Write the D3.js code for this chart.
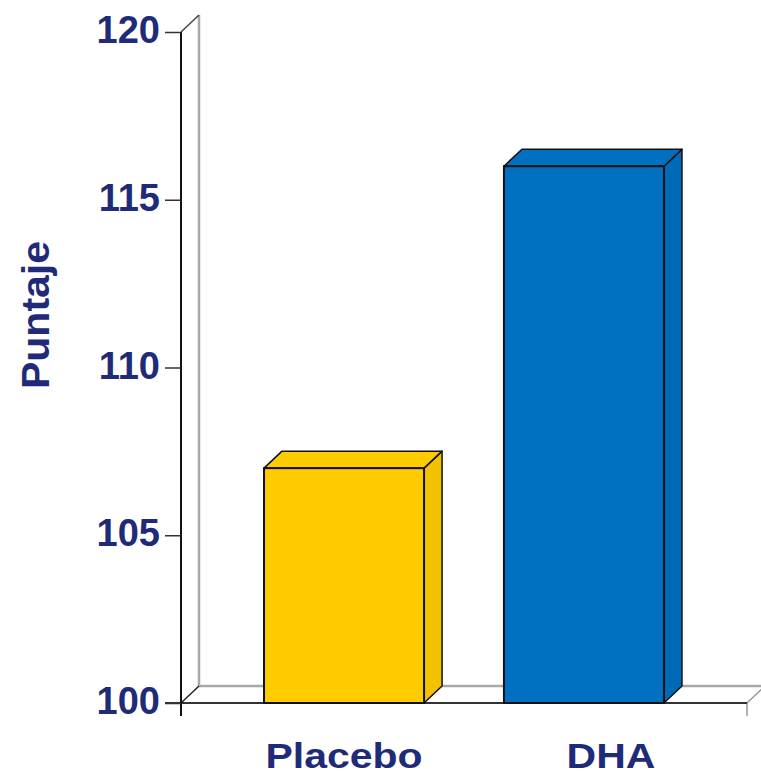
<!DOCTYPE html>
<html>
<head>
<meta charset="utf-8">
<script src="https://cdn.jsdelivr.net/npm/d3@7"></script>
<style>
  html, body { margin: 0; padding: 0; background: #fff; }
  svg { display: block; }
  text { font-family: "Liberation Sans", Arial, sans-serif; font-weight: bold; fill: #1f2b78; }
</style>
</head>
<body>
<svg id="chart" width="761" height="776"></svg>
<script>
// Data
const categories = ["Placebo", "DHA"];
const values = [107, 116];
const barColors = ["#ffcc00", "#0070c0"];
const yTicks = [100, 105, 110, 115, 120];
const yTitle = "Puntaje";

const svg = d3.select("#chart");

// Layout
const axisX = 181;      // front vertical axis
const floorRight = 747; // right end of floor front edge
const depthX = 18, depthY = 17; // 3D depth offset
const y = d3.scaleLinear().domain([100, 120]).range([703, 32]);
const x = d3.scaleBand().domain(categories).range([axisX, floorRight])
  .paddingInner(0.333).paddingOuter(0.346);

const wall = svg.append("g");
// back wall vertical line
wall.append("line")
  .attr("x1", axisX + depthX).attr("x2", axisX + depthX)
  .attr("y1", y(120) - depthY).attr("y2", y(100) - depthY)
  .attr("stroke", "#a8a8a8").attr("stroke-width", 2.5);
// back floor line
wall.append("line")
  .attr("x1", axisX + depthX).attr("x2", floorRight + depthX)
  .attr("y1", y(100) - depthY).attr("y2", y(100) - depthY)
  .attr("stroke", "#a8a8a8").attr("stroke-width", 2.5);
// right floor edge and its tick
wall.append("line")
  .attr("x1", floorRight).attr("x2", floorRight + depthX)
  .attr("y1", y(100)).attr("y2", y(100) - depthY)
  .attr("stroke", "#999").attr("stroke-width", 1.5);
wall.append("line")
  .attr("x1", floorRight).attr("x2", floorRight)
  .attr("y1", y(100)).attr("y2", y(100) + 13)
  .attr("stroke", "#999").attr("stroke-width", 1.5);
// floor front edge
wall.append("line")
  .attr("x1", axisX - 16).attr("x2", floorRight)
  .attr("y1", y(100)).attr("y2", y(100))
  .attr("stroke", "#333").attr("stroke-width", 1.8);
// left floor edge and top wall edge
wall.append("line")
  .attr("x1", axisX).attr("x2", axisX + depthX)
  .attr("y1", y(100)).attr("y2", y(100) - depthY)
  .attr("stroke", "#222").attr("stroke-width", 1.5);
wall.append("line")
  .attr("x1", axisX).attr("x2", axisX + depthX)
  .attr("y1", y(120)).attr("y2", y(120) - depthY)
  .attr("stroke", "#444").attr("stroke-width", 1.5);

// front y axis with ticks
const yAxis = d3.axisLeft(y).tickValues(yTicks).tickSize(16).tickPadding(5);
const ya = svg.append("g").attr("transform", `translate(${axisX},0)`).call(yAxis);
ya.select(".domain").attr("stroke", "#111").attr("stroke-width", 2)
  .attr("d", `M0,${y(120)}V${y(100) + 13}`);
ya.selectAll(".tick line").attr("stroke", "#333").attr("stroke-width", 1.5);
ya.selectAll(".tick text")
  .attr("font-size", 38).attr("font-family", "Liberation Sans, Arial, sans-serif")
  .attr("font-weight", "bold").attr("fill", "#1f2b78").attr("dy", "0.28em");

// 3D bars
const bars = svg.append("g").selectAll("g").data(categories).join("g");
bars.each(function(c, i) {
  const g = d3.select(this);
  const x0 = x(c), x1 = x(c) + x.bandwidth();
  const yTop = y(values[i]), yBot = y(100);
  const col = barColors[i];
  // right side
  g.append("path")
    .attr("d", `M${x1},${yBot}L${x1 + depthX},${yBot - depthY}L${x1 + depthX},${yTop - depthY}L${x1},${yTop}Z`)
    .attr("fill", d3.color(col).darker(0.15)).attr("stroke", "#111").attr("stroke-width", 1.5)
    .attr("stroke-linejoin", "round");
  // top
  g.append("path")
    .attr("d", `M${x0},${yTop}L${x0 + depthX},${yTop - depthY}L${x1 + depthX},${yTop - depthY}L${x1},${yTop}Z`)
    .attr("fill", col).attr("stroke", "#111").attr("stroke-width", 1.5)
    .attr("stroke-linejoin", "round");
  // front
  g.append("rect")
    .attr("x", x0).attr("y", yTop).attr("width", x1 - x0).attr("height", yBot - yTop)
    .attr("fill", col).attr("stroke", "#111").attr("stroke-width", 2);
});

// category labels
const labelShift = [0, 27];
svg.append("g").selectAll("text").data(categories).join("text")
  .attr("transform", (d, i) => `translate(${x(d) + x.bandwidth() / 2 + labelShift[i]},768) scale(1.17,1)`)
  .attr("text-anchor", "middle")
  .attr("font-size", 35)
  .text(d => d);

// y axis title
svg.append("text")
  .attr("transform", "translate(49,315) rotate(-90) scale(1.08,1)")
  .attr("text-anchor", "middle")
  .attr("font-size", 38)
  .text(yTitle);
</script>
</body>
</html>
